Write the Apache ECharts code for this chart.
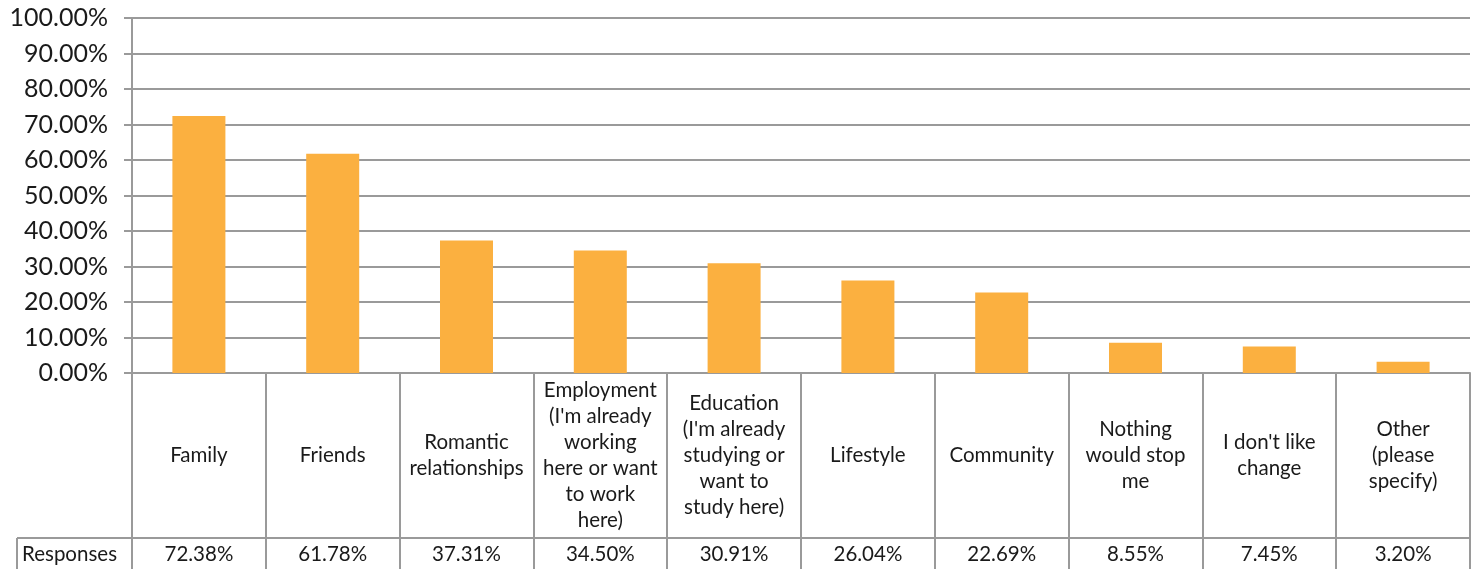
<!DOCTYPE html>
<html>
<head>
<meta charset="utf-8">
<script src="https://cdn.jsdelivr.net/npm/echarts@6/dist/echarts.min.js"></script>
<style>
  html, body { margin: 0; padding: 0; background: #fff; }
  #chart { width: 1474px; height: 569px; }
</style>
</head>
<body>
<div id="chart"></div>
<script>
const categories = [
  'Family',
  'Friends',
  'Romantic\nrelationships',
  "Employment\n(I'm already\nworking\nhere or want\nto work\nhere)",
  "Education\n(I'm already\nstudying or\nwant to\nstudy here)",
  'Lifestyle',
  'Community',
  'Nothing\nwould stop\nme',
  "I don't like\nchange",
  'Other\n(please\nspecify)'
]
const values = [72.38, 61.78, 37.31, 34.50, 30.91, 26.04, 22.69, 8.55, 7.45, 3.20]
const rowLabel = 'Responses'

const font = 'Lato'
const lineColor = '#9a9a9a'
const textColor = '#1a1a1a'

const myChart = echarts.init(document.getElementById('chart'))
myChart.setOption({
  animation: false,
  textStyle: { fontFamily: font },
  grid: { left: 132, right: 4, top: 18, bottom: 196 },
  xAxis: [
    {
      type: 'category',
      data: categories,
      axisLine: { show: true, lineStyle: { color: lineColor, width: 2 } },
      axisTick: { show: true, length: 196, lineStyle: { color: lineColor, width: 2 } },
      axisLabel: {
        interval: 0,
        margin: 82,
        verticalAlign: 'middle',
        lineHeight: 26,
        fontSize: 20.5,
        color: textColor,
        fontFamily: font
      }
    },
    {
      type: 'category',
      data: categories,
      position: 'bottom',
      axisLine: { show: false },
      axisTick: { show: false },
      axisLabel: {
        interval: 0,
        margin: 181,
        verticalAlign: 'middle',
        fontSize: 20.5,
        color: textColor,
        fontFamily: font,
        formatter: function (v, i) { return values[i].toFixed(2) + '%' }
      }
    }
  ],
  yAxis: {
    type: 'value',
    min: 0,
    max: 100,
    interval: 10,
    axisLine: { show: true, lineStyle: { color: lineColor, width: 2 } },
    axisTick: { show: true, length: 8, lineStyle: { color: lineColor, width: 2 } },
    splitLine: { show: true, lineStyle: { color: lineColor, width: 2 } },
    axisLabel: {
      margin: 24,
      fontSize: 25,
      color: textColor,
      fontFamily: font,
      formatter: function (v) { return v.toFixed(2) + '%' }
    }
  },
  graphic: [
    { type: 'line', shape: { x1: 17, y1: 538, x2: 1470, y2: 538 }, style: { stroke: lineColor, lineWidth: 2 } },
    { type: 'line', shape: { x1: 17, y1: 538, x2: 17, y2: 569 }, style: { stroke: lineColor, lineWidth: 2 } },
    { type: 'text', x: 22, y: 554, style: { text: rowLabel, fontSize: 20.5, fontFamily: font, fill: textColor, verticalAlign: 'middle' } }
  ],
  series: [
    {
      type: 'bar',
      data: values,
      barWidth: 53,
      itemStyle: { color: '#fbb040' }
    }
  ]
})
</script>
</body>
</html>
